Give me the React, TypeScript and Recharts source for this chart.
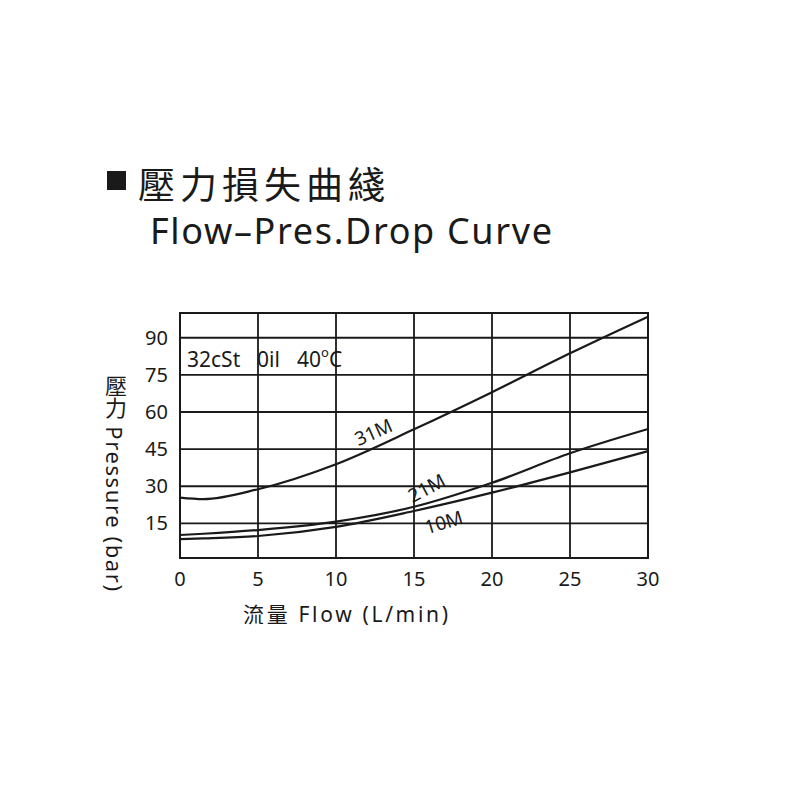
import React from 'react';
import { LineChart, Line, XAxis, YAxis, CartesianGrid, ReferenceArea, ReferenceDot } from 'recharts';

// Flow (L/min) against pressure drop (bar) for three spool sizes
const flow = [0, 1.5, 5, 10, 15, 20, 25, 30];
const drop31M = [25.4, 24.8, 28.8, 38.9, 53.0, 68.0, 83.7, 98.5];
const drop21M = [10.3, 10.8, 12.3, 15.7, 21.7, 31.4, 43.3, 53.1];
const drop10M = [8.6, 8.9, 9.9, 13.6, 20.0, 27.4, 35.6, 44.2];

const xTicks = [0, 5, 10, 15, 20, 25, 30];
const yTicks = [15, 30, 45, 60, 75, 90];

const data = flow.map((f, i) => ({
  flow: f,
  m31: drop31M[i],
  m21: drop21M[i],
  m10: drop10M[i],
}));

const INK = '#1a1a1a';
const SANS = '"Noto Sans", "Noto Sans CJK TC", sans-serif';
const CJK = '"Noto Sans CJK TC", "Noto Sans", sans-serif';

const tickStyle = { fill: INK, fontSize: 20, fontFamily: SANS };

const curveLabel = (text: string, angle: number) => (props: any) => {
  const vb = props.viewBox || {};
  const cx = vb.x + (vb.width || 0) / 2;
  const cy = vb.y + (vb.height || 0) / 2;
  return (
    <text
      x={cx}
      y={cy}
      transform={`rotate(${angle} ${cx} ${cy})`}
      textAnchor="middle"
      dominantBaseline="central"
      fill={INK}
      fontSize={19}
      fontFamily={SANS}
    >
      {text}
    </text>
  );
};

export default function App() {
  return (
    <div style={{ position: 'absolute', left: 0, top: 0, width: 800, height: 800, background: '#fff' }}>
      <LineChart
        width={800}
        height={800}
        data={data}
        margin={{ top: 313, right: 152, bottom: 212, left: 120 }}
      >
        <CartesianGrid stroke={INK} strokeWidth={1.8} />
        <XAxis
          dataKey="flow"
          type="number"
          domain={[0, 30]}
          ticks={xTicks}
          axisLine={false}
          tickLine={false}
          tickSize={0}
          tickMargin={14}
          height={30}
          tick={tickStyle}
        />
        <YAxis
          type="number"
          domain={[1, 100]}
          ticks={yTicks}
          allowDataOverflow
          axisLine={false}
          tickLine={false}
          tickSize={0}
          tickMargin={12}
          width={60}
          tick={tickStyle}
        />
        <ReferenceArea x1={0} x2={30} y1={1} y2={100} fill="none" stroke={INK} strokeWidth={2} />
        <Line type="monotone" dataKey="m31" stroke={INK} strokeWidth={2.2} dot={false} isAnimationActive={false} />
        <Line type="monotone" dataKey="m21" stroke={INK} strokeWidth={2.2} dot={false} isAnimationActive={false} />
        <Line type="monotone" dataKey="m10" stroke={INK} strokeWidth={2.2} dot={false} isAnimationActive={false} />
        <ReferenceDot x={12.4} y={51.9} r={0} fill="none" stroke="none" label={curveLabel('31M', -24)} />
        <ReferenceDot x={15.8} y={29.3} r={0} fill="none" stroke="none" label={curveLabel('21M', -28)} />
        <ReferenceDot x={16.9} y={15.5} r={0} fill="none" stroke="none" label={curveLabel('10M', -17)} />
      </LineChart>
      <svg
        width={800}
        height={800}
        style={{ position: 'absolute', left: 0, top: 0, pointerEvents: 'none' }}
      >
        <rect x={107} y={171} width={19} height={19} fill={INK} />
        <text x={138} y={183} dominantBaseline="central" fontSize={37} fontFamily={CJK} fill={INK} textLength={247} lengthAdjust="spacing">
          壓力損失曲綫
        </text>
        <text x={150} y={244} fontSize={36} fontFamily={SANS} fill={INK} textLength={402} lengthAdjust="spacing">
          Flow–Pres.Drop Curve
        </text>
        <text y={367} fontSize={21} fontFamily={SANS} fill={INK}>
          <tspan x={187}>32cSt</tspan>
          <tspan x={257}>0il</tspan>
          <tspan x={297}>40</tspan>
          <tspan fontSize={13} dy={-10}>o</tspan>
          <tspan dy={10}>C</tspan>
        </text>
        <text
          x={115}
          y={375}
          fontSize={22}
          fontFamily={SANS}
          fill={INK}
          style={{ writingMode: 'vertical-rl' }}
        >
          壓力<tspan letterSpacing={1.6}> Pressure (bar)</tspan>
        </text>
        <text x={243} y={614} dominantBaseline="central" fontSize={21} fontFamily={SANS} fill={INK} textLength={205} lengthAdjust="spacing">
          流量 Flow (L/min)
        </text>
      </svg>
    </div>
  );
}
